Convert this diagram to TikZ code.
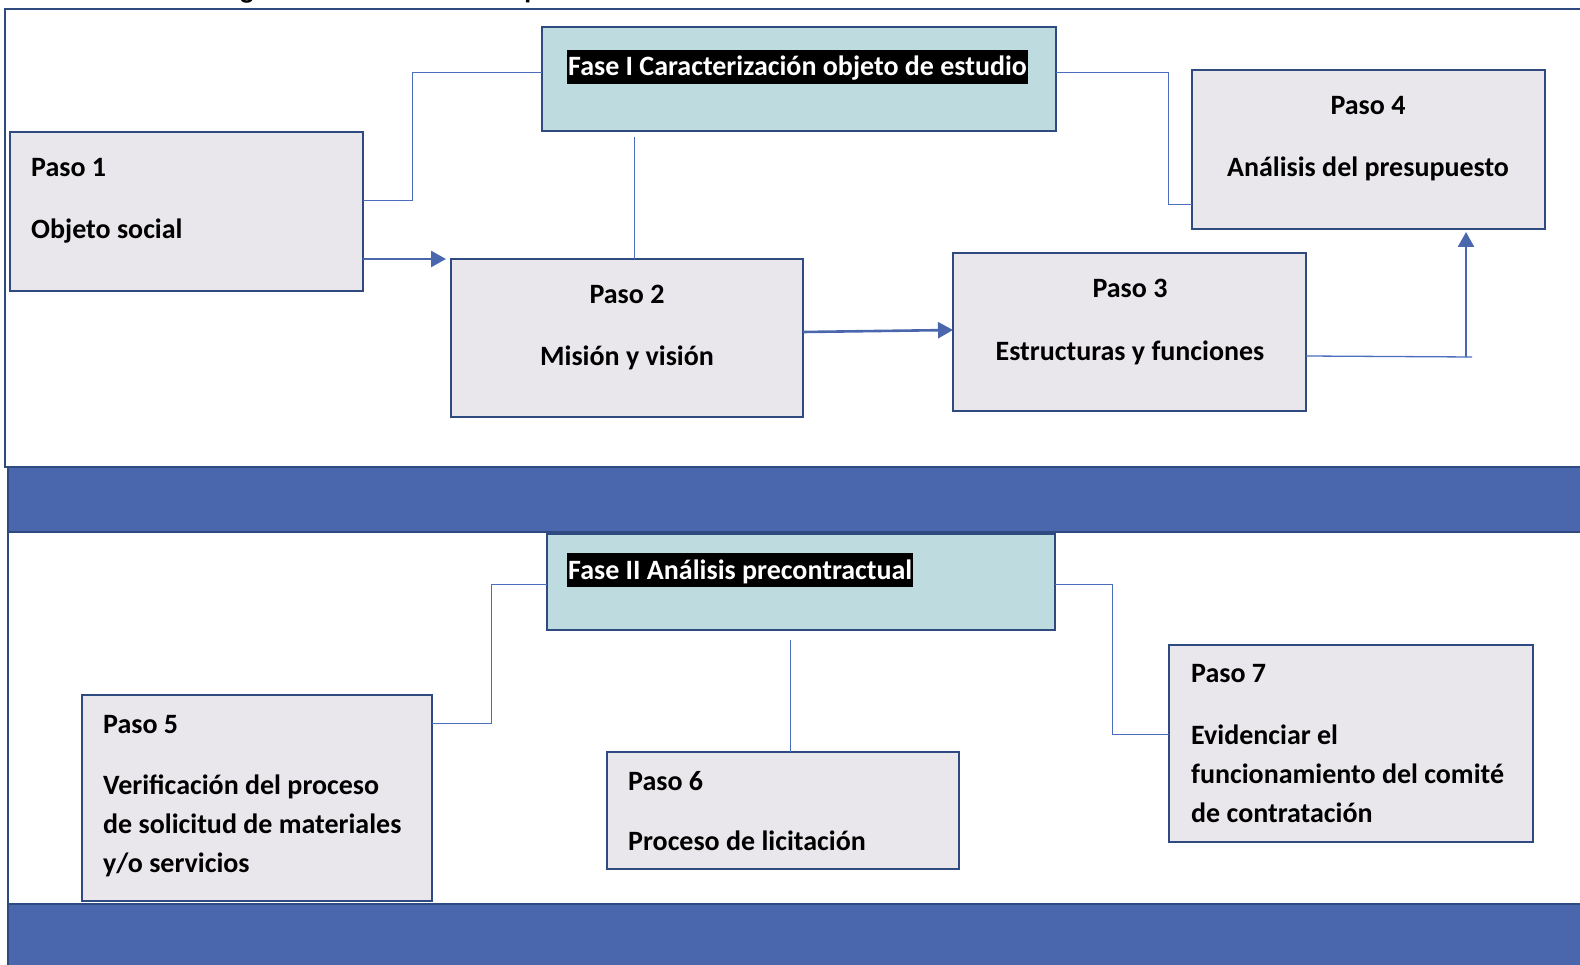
\documentclass[tikz,border=0pt]{standalone}
\usepackage{fontspec}
\setmainfont{Carlito}
\usetikzlibrary{arrows.meta}
\definecolor{frameblue}{HTML}{2F4A80}
\definecolor{bandblue}{HTML}{4A67AE}
\definecolor{linkblue}{HTML}{4A6DBE}
\definecolor{pasofill}{HTML}{E9E7EB}
\definecolor{fasefill}{HTML}{BEDBDF}
\tikzset{
  pbox/.style={draw=frameblue, line width=2.4pt, fill=pasofill, inner sep=0pt, outer sep=0pt, anchor=north west},
  fbox/.style={pbox, fill=fasefill},
  ptext/.style={font=\fontsize{28}{33}\selectfont\bfseries, inner sep=0pt, text=black},
  flabel/.style={font=\fontsize{28}{33}\selectfont\bfseries, fill=black, text=white, inner xsep=1pt, inner ysep=3pt, text height=23pt, text depth=5pt, anchor=west},
  thin link/.style={draw=linkblue, line width=1pt},
  arrow link/.style={draw=bandblue, line width=2.6pt, -{Triangle[length=15pt,width=16pt]}},
  band/.style={fill=bandblue, draw=frameblue, line width=2pt},
  frame/.style={draw=frameblue, line width=2pt}
}
\begin{document}
\begin{tikzpicture}[x=1pt,y=-1pt]
\useasboundingbox (0,0) rectangle (1580,965);
% title fragments cut by the top edge
\node[ptext, anchor=base] (tg) at (247,-1) {g};
\node[ptext, anchor=base] (tp) at (532,-1) {p};
% frames and bands
\draw[frame] (5,9) rectangle (1600,467);
\draw[band] (8,467) rectangle (1600,532);
\draw[frame] (8,532) rectangle (1600,904);
\draw[band] (8,904) rectangle (1600,990);

% Phase I
\node[fbox, minimum width=514pt, minimum height=104pt] (f1) at (542,27) {};
\node[flabel] (f1t) at (567,67) {Fase I Caracterización objeto de estudio};

\node[pbox, minimum width=353pt, minimum height=159pt] (p1) at (10,132) {};
\node[pbox, minimum width=352pt, minimum height=158pt] (p2) at (451,259) {};
\node[pbox, minimum width=353pt, minimum height=158pt] (p3) at (953,253) {};
\node[pbox, minimum width=353pt, minimum height=159pt] (p4) at (1192,70) {};

\node[ptext, anchor=base west] (p1a) at (31,177) {Paso 1};
\node[ptext, anchor=base west] (p1b) at (31,239) {Objeto social};
\node[ptext, anchor=base] (p2a) at (627,304) {Paso 2};
\node[ptext, anchor=base] (p2b) at (627,366) {Misión y visión};
\node[ptext, anchor=base] (p3a) at (1130,298) {Paso 3};
\node[ptext, anchor=base] (p3b) at (1130,361) {Estructuras y funciones};
\node[ptext, anchor=base] (p4a) at (1368,115) {Paso 4};
\node[ptext, anchor=base] (p4b) at (1368,177) {Análisis del presupuesto};

% Phase II
\node[fbox, minimum width=508pt, minimum height=96pt] (f2) at (547,534) {};
\node[flabel] (f2t) at (567,570) {Fase II Análisis precontractual};

\node[pbox, minimum width=350pt, minimum height=206pt] (p5) at (82,695) {};
\node[pbox, minimum width=352pt, minimum height=117pt] (p6) at (607,752) {};
\node[pbox, minimum width=364pt, minimum height=197pt] (p7) at (1169,645) {};

\node[ptext, anchor=base west] (p5a) at (103,733) {Paso 5};
\node[ptext, anchor=base west] (p5b) at (103,794) {Verificación del proceso};
\node[ptext, anchor=base west] (p5c) at (103,833) {de solicitud de materiales};
\node[ptext, anchor=base west] (p5d) at (103,872) {y/o servicios};
\node[ptext, anchor=base west] (p6a) at (628,790) {Paso 6};
\node[ptext, anchor=base west] (p6b) at (628,850) {Proceso de licitación};
\node[ptext, anchor=base west] (p7a) at (1191,682) {Paso 7};
\node[ptext, anchor=base west] (p7b) at (1191,744) {Evidenciar el};
\node[ptext, anchor=base west] (p7c) at (1191,783) {funcionamiento del comité};
\node[ptext, anchor=base west] (p7d) at (1191,822) {de contratación};

% connectors, phase I
\draw[thin link] (p1.east |- 0,200.5) -| (412,72.5) -- (f1.west |- 0,72.5);
\draw[arrow link] (p1.east |- 0,259) -- (446,259);
\draw[thin link] (634,137) -- (p2.north -| 634,0);
\draw[arrow link] (p2.east |- 0,332) -- (p3.west |- 0,330);
\draw[thin link] (f1.east |- 0,72.5) -| (1168,204.5) -- (p4.west |- 0,204.5);
\coordinate (c3) at (1472,357);
\draw[draw=linkblue, line width=1.3pt] (p3.east |- 0,356) -- (c3);
\draw[arrow link] (1466,357) -- (1466,232);

% connectors, phase II
\draw[thin link] (p5.east |- 0,723.5) -| (491,584.5) -- (f2.west |- 0,584.5);
\draw[thin link] (790,640) -- (p6.north -| 790,0);
\draw[thin link] (f2.east |- 0,584.5) -| (1112.5,734.5) -- (p7.west |- 0,734.5);
\end{tikzpicture}
\end{document}
